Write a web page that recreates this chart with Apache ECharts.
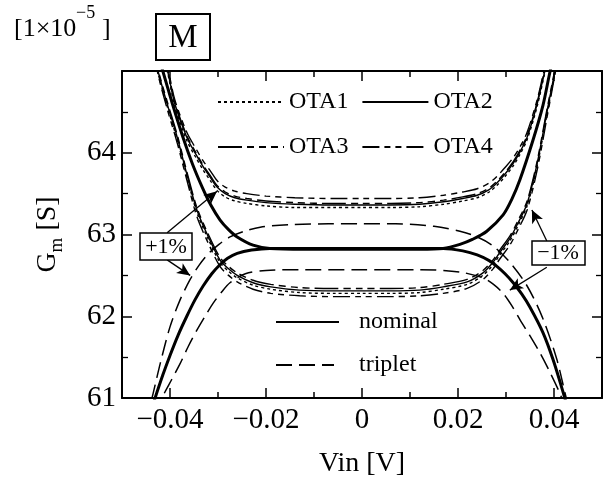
<!DOCTYPE html>
<html>
<head>
<meta charset="utf-8">
<script src="https://cdn.jsdelivr.net/npm/echarts@6/dist/echarts.min.js"></script>
<style>
  html, body { margin: 0; padding: 0; background: #fff; }
  #main { width: 611px; height: 493px; }
</style>
</head>
<body>
<div id="main"></div>
<script>
const FONT = 'Liberation Serif';

// tick positions
const xTickLabels = [-0.04, -0.02, 0, 0.02, 0.04];
const xMinorTicks = [-0.03, -0.01, 0.01, 0.03];
const yTickLabels = [61, 62, 63, 64];

// upper U cluster (four OTAs)
const upperX = [-0.042, -0.0405, -0.039, -0.0365, -0.0345, -0.0331, -0.0315, -0.0302, -0.0285, -0.0265, -0.024, -0.02, -0.014, -0.006, 0, 0.006, 0.012, 0.017, 0.021, 0.024, 0.0265, 0.0281, 0.0298, 0.0315, 0.033, 0.0344, 0.0365, 0.0381, 0.0395];
const upperOTA1 = [65.3, 64.98, 64.57, 64.15, 63.93, 63.79, 63.65, 63.54, 63.46, 63.41, 63.38, 63.35, 63.33, 63.33, 63.33, 63.33, 63.34, 63.37, 63.41, 63.45, 63.52, 63.6, 63.71, 63.84, 63.99, 64.16, 64.57, 64.98, 65.3];
const upperOTA2 = [65.3, 65.0, 64.6, 64.19, 63.97, 63.83, 63.69, 63.58, 63.5, 63.45, 63.42, 63.39, 63.37, 63.36, 63.36, 63.36, 63.37, 63.4, 63.44, 63.48, 63.55, 63.63, 63.74, 63.87, 64.02, 64.19, 64.6, 65.0, 65.3];
const upperOTA3 = [65.3, 65.02, 64.62, 64.21, 63.99, 63.85, 63.71, 63.6, 63.52, 63.47, 63.44, 63.41, 63.39, 63.38, 63.38, 63.38, 63.39, 63.42, 63.46, 63.5, 63.57, 63.65, 63.76, 63.89, 64.04, 64.21, 64.62, 65.02, 65.3];
const upperOTA4 = [65.3, 65.04, 64.65, 64.25, 64.04, 63.9, 63.77, 63.66, 63.58, 63.53, 63.5, 63.47, 63.45, 63.44, 63.44, 63.44, 63.45, 63.48, 63.52, 63.56, 63.63, 63.71, 63.82, 63.94, 64.08, 64.25, 64.65, 65.04, 65.3];

// lower U cluster (four OTAs)
const lowerX = [-0.0435, -0.0425, -0.0406, -0.0385, -0.0365, -0.0344, -0.032, -0.0296, -0.0278, -0.026, -0.0227, -0.019, -0.013, -0.006, 0, 0.006, 0.012, 0.0169, 0.0219, 0.0252, 0.0273, 0.0287, 0.0308, 0.0325, 0.0344, 0.0365, 0.0385, 0.0402, 0.0412];
const lowerOTA1 = [65.3, 64.98, 64.57, 64.16, 63.71, 63.27, 62.94, 62.66, 62.55, 62.47, 62.38, 62.33, 62.29, 62.28, 62.28, 62.28, 62.29, 62.33, 62.39, 62.5, 62.63, 62.75, 62.92, 63.11, 63.35, 63.84, 64.46, 64.98, 65.3];
const lowerOTA2 = [65.3, 65.0, 64.6, 64.19, 63.74, 63.3, 62.97, 62.69, 62.58, 62.5, 62.41, 62.36, 62.32, 62.31, 62.31, 62.31, 62.32, 62.36, 62.42, 62.53, 62.66, 62.78, 62.95, 63.14, 63.38, 63.87, 64.49, 65.0, 65.3];
const lowerOTA3 = [65.3, 65.02, 64.63, 64.22, 63.77, 63.33, 63.0, 62.72, 62.61, 62.53, 62.44, 62.39, 62.35, 62.34, 62.34, 62.34, 62.35, 62.39, 62.45, 62.56, 62.69, 62.81, 62.98, 63.17, 63.41, 63.9, 64.52, 65.02, 65.3];
const lowerOTA4 = [65.3, 64.96, 64.54, 64.12, 63.67, 63.22, 62.89, 62.61, 62.5, 62.42, 62.33, 62.28, 62.25, 62.24, 62.24, 62.24, 62.25, 62.28, 62.34, 62.45, 62.58, 62.7, 62.87, 63.06, 63.3, 63.79, 64.42, 64.96, 65.3];

// nominal: U curve and cap curve
const nominalUX = [-0.043, -0.0415, -0.0395, -0.0373, -0.0353, -0.0333, -0.0315, -0.0296, -0.0278, -0.026, -0.0227, -0.0192, -0.012, 0, 0.012, 0.0169, 0.0204, 0.023, 0.026, 0.0294, 0.0312, 0.0329, 0.0356, 0.0377, 0.0392, 0.0405];
const nominalUY = [65.3, 65.0, 64.6, 64.19, 63.86, 63.58, 63.36, 63.18, 63.06, 62.97, 62.87, 62.83, 62.82, 62.82, 62.82, 62.83, 62.88, 62.94, 63.04, 63.24, 63.43, 63.67, 64.15, 64.58, 65.0, 65.3];
const nominalCapX = [-0.0445, -0.0431, -0.0415, -0.04, -0.0383, -0.0365, -0.0348, -0.0331, -0.0313, -0.0296, -0.028, -0.026, -0.023, -0.0192, -0.012, 0, 0.012, 0.0169, 0.021, 0.024, 0.0265, 0.0281, 0.0298, 0.0315, 0.0333, 0.035, 0.0377, 0.0398, 0.0419, 0.043];
const nominalCapY = [60.74, 61.0, 61.28, 61.52, 61.77, 62.0, 62.2, 62.37, 62.52, 62.63, 62.71, 62.77, 62.81, 62.83, 62.83, 62.83, 62.83, 62.83, 62.8, 62.75, 62.68, 62.61, 62.52, 62.41, 62.27, 62.11, 61.8, 61.47, 61.07, 60.84];

// triplet: outer and inner cap curves
const tripletHiX = [-0.045, -0.0435, -0.042, -0.04, -0.0379, -0.0358, -0.034, -0.0321, -0.0298, -0.0275, -0.0245, -0.0212, -0.015, -0.007, 0, 0.007, 0.015, 0.0204, 0.024, 0.0273, 0.0308, 0.0344, 0.0377, 0.0406, 0.0423, 0.0435];
const tripletHiY = [60.7, 61.06, 61.43, 61.87, 62.2, 62.45, 62.62, 62.76, 62.88, 62.97, 63.04, 63.09, 63.12, 63.13, 63.13, 63.13, 63.1, 63.04, 62.97, 62.86, 62.66, 62.37, 61.97, 61.47, 61.06, 60.78];
const tripletLoX = [-0.043, -0.0415, -0.0397, -0.0379, -0.0362, -0.0344, -0.0327, -0.031, -0.0292, -0.0275, -0.0243, -0.02, -0.012, 0, 0.012, 0.0204, 0.0252, 0.0274, 0.0294, 0.0312, 0.0329, 0.035, 0.0371, 0.0392, 0.0412, 0.0425];
const tripletLoY = [60.8, 61.02, 61.22, 61.42, 61.63, 61.83, 62.0, 62.16, 62.3, 62.41, 62.52, 62.56, 62.57, 62.57, 62.57, 62.54, 62.47, 62.39, 62.28, 62.13, 61.96, 61.76, 61.55, 61.31, 61.06, 60.86];

// annotation arrows (tail -> head)
const arrowFrom = [[-0.0406, 63.02], [-0.0406, 62.69], [0.0385, 62.92], [0.0385, 62.6]];
const arrowTo = [[-0.0302, 63.53], [-0.0358, 62.5], [0.0354, 63.3], [0.0308, 62.32]];

const pairs = (xs, ys) => xs.map((x, i) => [x, ys[i]]);

const styles = {
  OTA1: { width: 1.4, type: [3, 3] },
  OTA2: { width: 1.4, type: 'solid' },
  OTA3: { width: 1.4, type: [24, 5, 7, 5, 7, 5, 7, 5] },
  OTA4: { width: 1.4, type: [17, 5, 6, 5, 6, 5] },
  nominal: { width: 3, type: 'solid' },
  triplet: { width: 1.5, type: [16, 7] }
};

function curve(name, xs, ys, z) {
  return {
    name: name,
    type: 'line',
    data: pairs(xs, ys),
    symbol: 'none',
    smooth: 0.3,
    z: z || 2,
    lineStyle: Object.assign({ color: '#000' }, styles[name]),
    itemStyle: { color: '#000' },
    emphasis: { disabled: true }
  };
}

const myChart = echarts.init(document.querySelector('#main'));

const serif = { fontFamily: FONT, color: '#000' };
const fmt = v => (v < 0 ? '\u2212' + Math.abs(v) : String(v));

function xAx(pos, ticks, len, showLine, showLabel) {
  return {
    type: 'value', position: pos, min: -0.05, max: 0.05,
    axisLine: { show: showLine, onZero: false, lineStyle: { color: '#000', width: 2 } },
    axisTick: { show: true, inside: true, length: len, customValues: ticks, lineStyle: { color: '#000', width: 1.5 } },
    axisLabel: { show: showLabel, customValues: ticks, formatter: fmt, fontSize: 29, margin: 8, ...serif },
    splitLine: { show: false }
  };
}

function yAx(pos, showLabel) {
  return {
    type: 'value', position: pos, min: 61, max: 65, interval: 1,
    axisLine: { show: true, onZero: false, lineStyle: { color: '#000', width: 2 } },
    axisTick: { show: true, inside: true, length: 10, lineStyle: { color: '#000', width: 1.5 } },
    minorTick: { show: true, splitNumber: 2, length: 6, lineStyle: { color: '#000', width: 1.3 } },
    axisLabel: { show: showLabel, customValues: yTickLabels, fontSize: 29, margin: 6, ...serif },
    splitLine: { show: false }
  };
}

const xMain = xAx('bottom', xTickLabels, 10, true, true);
xMain.name = 'Vin [V]';
xMain.nameLocation = 'middle';
xMain.nameGap = 52;
xMain.nameTextStyle = { fontSize: 28, ...serif };

const yMain = yAx('left', true);
yMain.name = '{a|G}{b|m}{a| [S]}';
yMain.nameLocation = 'middle';
yMain.nameRotate = 90;
yMain.nameGap = 55;
yMain.nameTextStyle = {
  ...serif,
  rich: {
    a: { fontFamily: FONT, fontSize: 28, color: '#000', lineHeight: 38 },
    b: { fontFamily: FONT, fontSize: 19, color: '#000', verticalAlign: 'bottom', lineHeight: 38 }
  }
};

const legendBase = {
  orient: 'horizontal',
  padding: 0,
  itemHeight: 10,
  selectedMode: false,
  textStyle: { fontSize: 24, ...serif },
  itemStyle: { color: 'rgba(0,0,0,0)', borderWidth: 0 }
};

const option = {
  animation: false,
  backgroundColor: '#fff',
  grid: { left: 122, top: 71, right: 9, bottom: 95, containLabel: false },
  xAxis: [
    xMain,
    xAx('top', xTickLabels, 10, true, false),
    xAx('bottom', xMinorTicks, 6, false, false),
    xAx('top', xMinorTicks, 6, false, false)
  ],
  yAxis: [yMain, yAx('right', false)],
  legend: [
    Object.assign({}, legendBase, { data: ['OTA1', 'OTA2'], left: 217, top: 90, itemWidth: 66, itemGap: 13 }),
    Object.assign({}, legendBase, { data: ['OTA3', 'OTA4'], left: 217, top: 135, itemWidth: 66, itemGap: 13 }),
    Object.assign({}, legendBase, { data: ['nominal'], left: 275, top: 310, itemWidth: 63,
      textStyle: { fontSize: 24, ...serif, padding: [0, 0, 0, 15] } }),
    Object.assign({}, legendBase, { data: ['triplet'], left: 275, top: 353, itemWidth: 58,
      textStyle: { fontSize: 24, ...serif, padding: [0, 0, 0, 20] } })
  ],
  graphic: [
    { type: 'text', style: { text: '[1\u00d710', x: 14, y: 29, font: '26px "Liberation Serif"', fill: '#000', textAlign: 'left', textVerticalAlign: 'middle' } },
    { type: 'text', style: { text: '\u22125', x: 76, y: 13, font: '18px "Liberation Serif"', fill: '#000', textAlign: 'left', textVerticalAlign: 'middle' } },
    { type: 'text', style: { text: ']', x: 102, y: 29, font: '26px "Liberation Serif"', fill: '#000', textAlign: 'left', textVerticalAlign: 'middle' } },
    { type: 'rect', shape: { x: 156, y: 14, width: 54, height: 46 }, style: { fill: '#fff', stroke: '#000', lineWidth: 2 } },
    { type: 'text', style: { text: 'M', x: 183, y: 38, font: '33px "Liberation Serif"', fill: '#000', textAlign: 'center', textVerticalAlign: 'middle' } },
    { type: 'rect', z: 10, shape: { x: 140, y: 233, width: 52, height: 27 }, style: { fill: '#fff', stroke: '#000', lineWidth: 1.5 } },
    { type: 'text', z: 11, style: { text: '+1%', x: 166, y: 247, font: '22px "Liberation Serif"', fill: '#000', textAlign: 'center', textVerticalAlign: 'middle' } },
    { type: 'rect', z: 10, shape: { x: 532, y: 241, width: 53, height: 24 }, style: { fill: '#fff', stroke: '#000', lineWidth: 1.5 } },
    { type: 'text', z: 11, style: { text: '\u22121%', x: 558, y: 253, font: '22px "Liberation Serif"', fill: '#000', textAlign: 'center', textVerticalAlign: 'middle' } }
  ],
  series: [
    curve('OTA1', upperX, upperOTA1),
    curve('OTA2', upperX, upperOTA2),
    curve('OTA3', upperX, upperOTA3),
    curve('OTA4', upperX, upperOTA4),
    curve('OTA1', lowerX, lowerOTA1),
    curve('OTA2', lowerX, lowerOTA2),
    curve('OTA3', lowerX, lowerOTA3),
    curve('OTA4', lowerX, lowerOTA4),
    curve('triplet', tripletHiX, tripletHiY),
    curve('triplet', tripletLoX, tripletLoY),
    curve('nominal', nominalUX, nominalUY, 3),
    curve('nominal', nominalCapX, nominalCapY, 3),
    {
      name: 'arrows',
      type: 'line',
      data: [],
      z: 5,
      markLine: {
        silent: true,
        animation: false,
        label: { show: false },
        lineStyle: { color: '#000', width: 1.3, type: 'solid' },
        itemStyle: { color: '#000' },
        data: arrowFrom.map((p, i) => [
          { coord: p, symbol: 'none' },
          { coord: arrowTo[i], symbol: 'arrow', symbolSize: [9, 13] }
        ])
      }
    }
  ]
};

myChart.setOption(option);
</script>
</body>
</html>
